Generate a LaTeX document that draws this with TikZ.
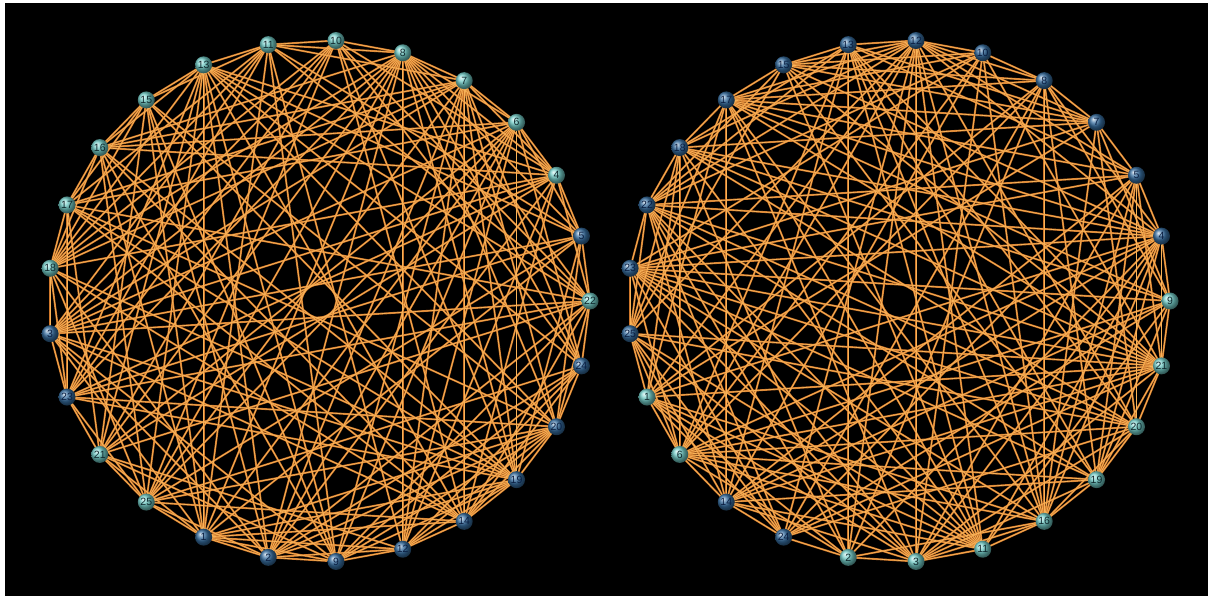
\documentclass[tikz,border=0pt]{standalone}
\usepackage{fontspec}
\setmainfont{Liberation Sans}
\usetikzlibrary{shadings}
\definecolor{edgeA}{RGB}{205,118,42}
\definecolor{edgeB}{RGB}{248,178,88}
\definecolor{tealn}{RGB}{115,205,200}
\definecolor{bluen}{RGB}{55,110,160}
\definecolor{tealtxt}{RGB}{15,40,45}
\definecolor{bluetxt}{RGB}{10,30,65}
\pgfdeclarelayer{back}
\pgfdeclarelayer{bg}
\pgfsetlayers{back,bg,main}
\tikzset{
  vtx/.style={circle,inner sep=0pt,minimum size=17pt,font=\fontsize{10.5}{10.5}\selectfont},
  vt/.style={vtx,shading=ball,ball color=tealn,text=tealtxt},
  vb/.style={vtx,shading=ball,ball color=bluen,text=bluetxt},
  edgeout/.style={draw=edgeA,line width=1.9pt},
  edgein/.style={draw=edgeB,line width=0.7pt},
}
\newcommand{\drawgraph}[2]{%
  \begin{pgfonlayer}{bg}
  \foreach \i in {0,...,23}{%
    \pgfmathtruncatemacro\s{\i+1}%
    \foreach \j in {\s,...,24}{%
      \pgfmathtruncatemacro\h{mod(mod(\i*\i,29)*7+mod(\j*\j,29)*13+mod(\i*\j,29)*11+\i*3+\j*5+#2,29)}%
      \pgfmathtruncatemacro\d{\j-\i}%
      \pgfmathtruncatemacro\ok{(\h<17)||(\d==1)||(\d==24)}%
      \ifnum\ok=1
        \draw[edgeout] (#1\i.center) -- (#1\j.center);
      \fi
    }%
  }%
  \foreach \i in {0,...,23}{%
    \pgfmathtruncatemacro\s{\i+1}%
    \foreach \j in {\s,...,24}{%
      \pgfmathtruncatemacro\h{mod(mod(\i*\i,29)*7+mod(\j*\j,29)*13+mod(\i*\j,29)*11+\i*3+\j*5+#2,29)}%
      \pgfmathtruncatemacro\d{\j-\i}%
      \pgfmathtruncatemacro\ok{(\h<17)||(\d==1)||(\d==24)}%
      \ifnum\ok=1
        \draw[edgein] (#1\i.center) -- (#1\j.center);
      \fi
    }%
  }%
  \end{pgfonlayer}%
}
\begin{document}
\begin{tikzpicture}[x=1pt,y=-1pt]
\begin{pgfonlayer}{back}
\fill[white] (0,0) rectangle (1208,596);
\fill[black] (5,3) rectangle (1208,596);
\end{pgfonlayer}
\useasboundingbox (0,0) rectangle (1208,596);
% left graph
\foreach \lab/\c [count=\k from 0] in {22/t,5/b,4/t,6/t,7/t,8/t,10/t,11/t,13/t,15/t,16/t,17/t,18/t,3/b,23/b,21/t,25/t,1/b,2/b,9/b,12/b,14/b,19/b,20/b,24/b}{
  \node[v\c] (L\k) at ({319+271*cos(14.4*\k)},{301-261*sin(14.4*\k)}) {\lab};
}
% right graph
\foreach \lab/\c [count=\k from 0] in {9/t,4/b,5/b,7/b,8/b,10/b,12/b,13/b,15/b,17/b,18/b,22/b,23/b,25/b,1/t,6/t,14/b,24/b,2/t,3/t,11/t,16/t,19/t,20/t,21/t}{
  \node[v\c] (R\k) at ({899+271*cos(14.4*\k)},{301-261*sin(14.4*\k)}) {\lab};
}
\drawgraph{L}{3}
\drawgraph{R}{17}
\end{tikzpicture}
\end{document}
